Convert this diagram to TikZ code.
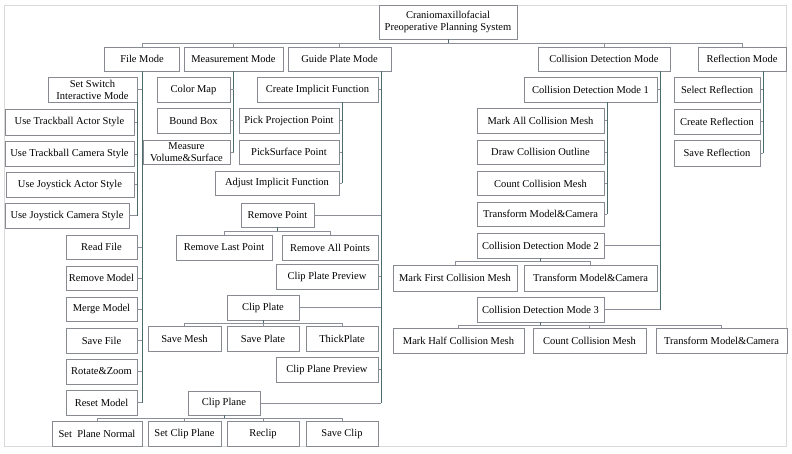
\documentclass[tikz,border=0pt]{standalone}
\usepackage{fontspec}
\setmainfont{Liberation Serif}
\definecolor{boxgray}{HTML}{878A91}
\definecolor{stubgray}{HTML}{8C8E9A}
\definecolor{trunkteal}{HTML}{4B6B6C}
\definecolor{framegray}{HTML}{D9D9D9}

\begin{document}
\begin{tikzpicture}[
    x=1pt, y=-1pt, % pixel grid, y downwards
    font=\fontsize{10.5}{12}\selectfont,
    box/.style={draw=boxgray, fill=white, line width=0.8pt, minimum height=25, inner sep=1pt, align=center},
    trunk/.style={draw=trunkteal, line width=0.8pt},
    stub/.style={draw=stubgray, line width=0.8pt},
]
\useasboundingbox (0,0) rectangle (792,453);
\draw[framegray, line width=0.8pt] (4,5) rectangle (786,446);

% root and modes
\node[box, minimum width=138, minimum height=34] (root) at (448,22) {Craniomaxillofacial\\Preoperative Planning System};
\node[box, minimum width=75, minimum height=24] (fileM) at (142,59) {File Mode};
\node[box, minimum width=99, minimum height=24] (measM) at (233.5,59) {Measurement Mode};
\node[box, minimum width=103, minimum height=24] (guideM) at (339.5,59) {Guide Plate Mode};
\node[box, minimum width=132, minimum height=24] (collM) at (604,59) {Collision Detection Mode};
\node[box, minimum width=88, minimum height=24] (reflM) at (742,59) {Reflection Mode};

\draw[trunk] (root.south) -- ++(0,4) coordinate (topB);
\draw[stub] (fileM.north) |- (topB) -| (reflM.north);
\foreach \n in {measM,guideM,collM}
    \draw[stub] (\n.north) -- (\n.north |- topB);

% file mode
\node[box, minimum width=89] (ssim) at (92.5,89.5) {Set Switch\\Interactive Mode};
\node[box, minimum width=129, minimum height=26] (utAct) at (69.5,122) {Use Trackball Actor Style};
\node[box, minimum width=129] (utCam) at (69.5,154) {Use Trackball Camera Style};
\node[box, minimum width=128] (ujAct) at (70,184.5) {Use Joystick Actor Style};
\node[box, minimum width=124] (ujCam) at (67,215.5) {Use Joystick Camera Style};
\node[box, minimum width=71, minimum height=24] (readF) at (101.5,247) {Read File};
\node[box, minimum width=71, minimum height=24] (remModel) at (101.5,278) {Remove Model};
\node[box, minimum width=71, minimum height=24] (mergeM) at (101.5,309) {Merge Model};
\node[box, minimum width=71] (saveF) at (101.5,340.5) {Save File};
\node[box, minimum width=71] (rotZoom) at (101.5,371.5) {Rotate\&Zoom};
\node[box, minimum width=71] (resetM) at (101.5,402.5) {Reset Model};

\draw[trunk] (fileM.south) -- (fileM.south |- resetM.east);
\foreach \n in {ssim,readF,remModel,mergeM,saveF,rotZoom,resetM}
    \draw[stub] (\n.east) -- (\n.east -| fileM.south);
\draw[trunk] (ssim.south east) -- (ssim.south east |- ujCam.east);
\foreach \n in {utAct,utCam,ujAct,ujCam}
    \draw[stub] (\n.east) -- (\n.east -| ssim.south east);

% measurement mode
\node[box, minimum width=73] (colorMap) at (193.5,89.5) {Color Map};
\node[box, minimum width=73] (boundBox) at (193.5,120.5) {Bound Box};
\node[box, minimum width=87, minimum height=24] (mvs) at (186.5,152) {Measure\\Volume\&Surface};

\draw[trunk] (measM.south) -- (measM.south |- mvs.east);
\foreach \n in {colorMap,boundBox,mvs}
    \draw[stub] (\n.east) -- (\n.east -| measM.south);

% guide plate mode
\node[box, minimum width=121] (cif) at (317.5,89.5) {Create Implicit Function};
\node[box, minimum width=100] (ppp) at (289,120.5) {Pick Projection Point};
\node[box, minimum width=100, minimum height=24] (psp) at (289,152) {PickSurface Point};
\node[box, minimum width=124, minimum height=24] (aif) at (277,183) {Adjust Implicit Function};
\node[box, minimum width=73, minimum height=24] (remP) at (277.5,215) {Remove Point};
\node[box, minimum width=96] (rlp) at (224,247.5) {Remove Last Point};
\node[box, minimum width=96] (rap) at (330,247.5) {Remove All Points};
\node[box, minimum width=102] (cpp) at (327,276.5) {Clip Plate Preview};
\node[box, minimum width=72] (clipP) at (263,307.5) {Clip Plate};
\node[box, minimum width=73] (saveMesh) at (184.5,338.5) {Save Mesh};
\node[box, minimum width=72] (savePl) at (263,338.5) {Save Plate};
\node[box, minimum width=72] (thickPl) at (342,338.5) {ThickPlate};
\node[box, minimum width=102] (cplp) at (327,369.5) {Clip Plane Preview};
\node[box, minimum width=72, minimum height=24] (clipPl) at (224,403) {Clip Plane};
\node[box, minimum width=90] (spn) at (97,433.5) {Set~~Plane Normal};
\node[box, minimum width=73] (scp) at (184.5,433.5) {Set Clip Plane};
\node[box, minimum width=72] (reclip) at (263,433.5) {Reclip};
\node[box, minimum width=72] (saveClip) at (342,433.5) {Save Clip};

\coordinate (gT) at ([xshift=41.5]guideM.south);
\draw[trunk] (gT) -- (gT |- clipPl.east);
\foreach \n in {cif,remP,cpp,clipP,cplp,clipPl}
    \draw[stub] (\n.east) -- (\n.east -| gT);
\coordinate (cifT) at ([xshift=24.5]cif.south);
\draw[trunk] (cifT) -- (cifT |- aif.east);
\foreach \n in {ppp,psp,aif}
    \draw[stub] (\n.east) -- (\n.east -| cifT);
\draw[trunk] (remP.south) -- ++(0,4) coordinate (rpB);
\draw[stub] (rlp.north) |- (rpB) -| (rap.north);
\draw[trunk] (clipP.south) -- ++(0,3) coordinate (cpB);
\draw[stub] (saveMesh.north) |- (cpB) -| (thickPl.north);
\draw[stub] (savePl.north) -- (cpB);
\draw[trunk] (clipPl.south) -- ++(0,3) coordinate (clB);
\draw[stub] (spn.north) |- (clB) -| (saveClip.north);
\foreach \n in {scp,reclip}
    \draw[stub] (\n.north) -- (\n.north |- clB);

% collision detection mode
\node[box, minimum width=133] (cdm1) at (590.5,89.5) {Collision Detection Mode 1};
\node[box, minimum width=127] (macm) at (540.5,120.5) {Mark All Collision Mesh};
\node[box, minimum width=127, minimum height=24] (dco) at (540.5,152) {Draw Collision Outline};
\node[box, minimum width=127, minimum height=24] (ccm1) at (540.5,183.5) {Count Collision Mesh};
\node[box, minimum width=127, minimum height=24] (tmc1) at (540.5,214) {Transform Model\&Camera};
\node[box, minimum width=127] (cdm2) at (540.5,245.5) {Collision Detection Mode 2};
\node[box, minimum width=124, minimum height=26] (mfcm) at (455,278) {Mark First Collision Mesh};
\node[box, minimum width=133, minimum height=26] (tmc2) at (590.5,278) {Transform Model\&Camera};
\node[box, minimum width=127] (cdm3) at (540.5,309.5) {Collision Detection Mode 3};
\node[box, minimum width=131] (mhcm) at (458.5,340.5) {Mark Half Collision Mesh};
\node[box, minimum width=113] (ccm3) at (589.5,340.5) {Count Collision Mesh};
\node[box, minimum width=131] (tmc3) at (721.5,340.5) {Transform Model\&Camera};

\coordinate (cT) at ([xshift=56]collM.south);
\draw[trunk] (cT) -- (cT |- cdm3.east);
\foreach \n in {cdm1,cdm2,cdm3}
    \draw[stub] (\n.east) -- (\n.east -| cT);
\coordinate (c1T) at ([xshift=16.5]cdm1.south);
\draw[trunk] (c1T) -- (c1T |- tmc1.east);
\foreach \n in {macm,dco,ccm1,tmc1}
    \draw[stub] (\n.east) -- (\n.east -| c1T);
\draw[trunk] (cdm2.south) -- ++(0,3) coordinate (c2B);
\draw[stub] (mfcm.north) |- (c2B) -| (tmc2.north);
\draw[trunk] (cdm3.south) -- ++(0,3) coordinate (c3B);
\draw[stub] (mhcm.north) |- (c3B) -| (tmc3.north);
\draw[stub] (ccm3.north) -- (ccm3.north |- c3B);

% reflection mode
\node[box, minimum width=86] (selR) at (717,89.5) {Select Reflection};
\node[box, minimum width=86] (creR) at (717,121.5) {Create Reflection};
\node[box, minimum width=86, minimum height=26] (saveR) at (717,153) {Save Reflection};

\coordinate (rT) at ([xshift=21]reflM.south);
\draw[trunk] (rT) -- (rT |- saveR.east);
\foreach \n in {selR,creR,saveR}
    \draw[stub] (\n.east) -- (\n.east -| rT);
\end{tikzpicture}
\end{document}
